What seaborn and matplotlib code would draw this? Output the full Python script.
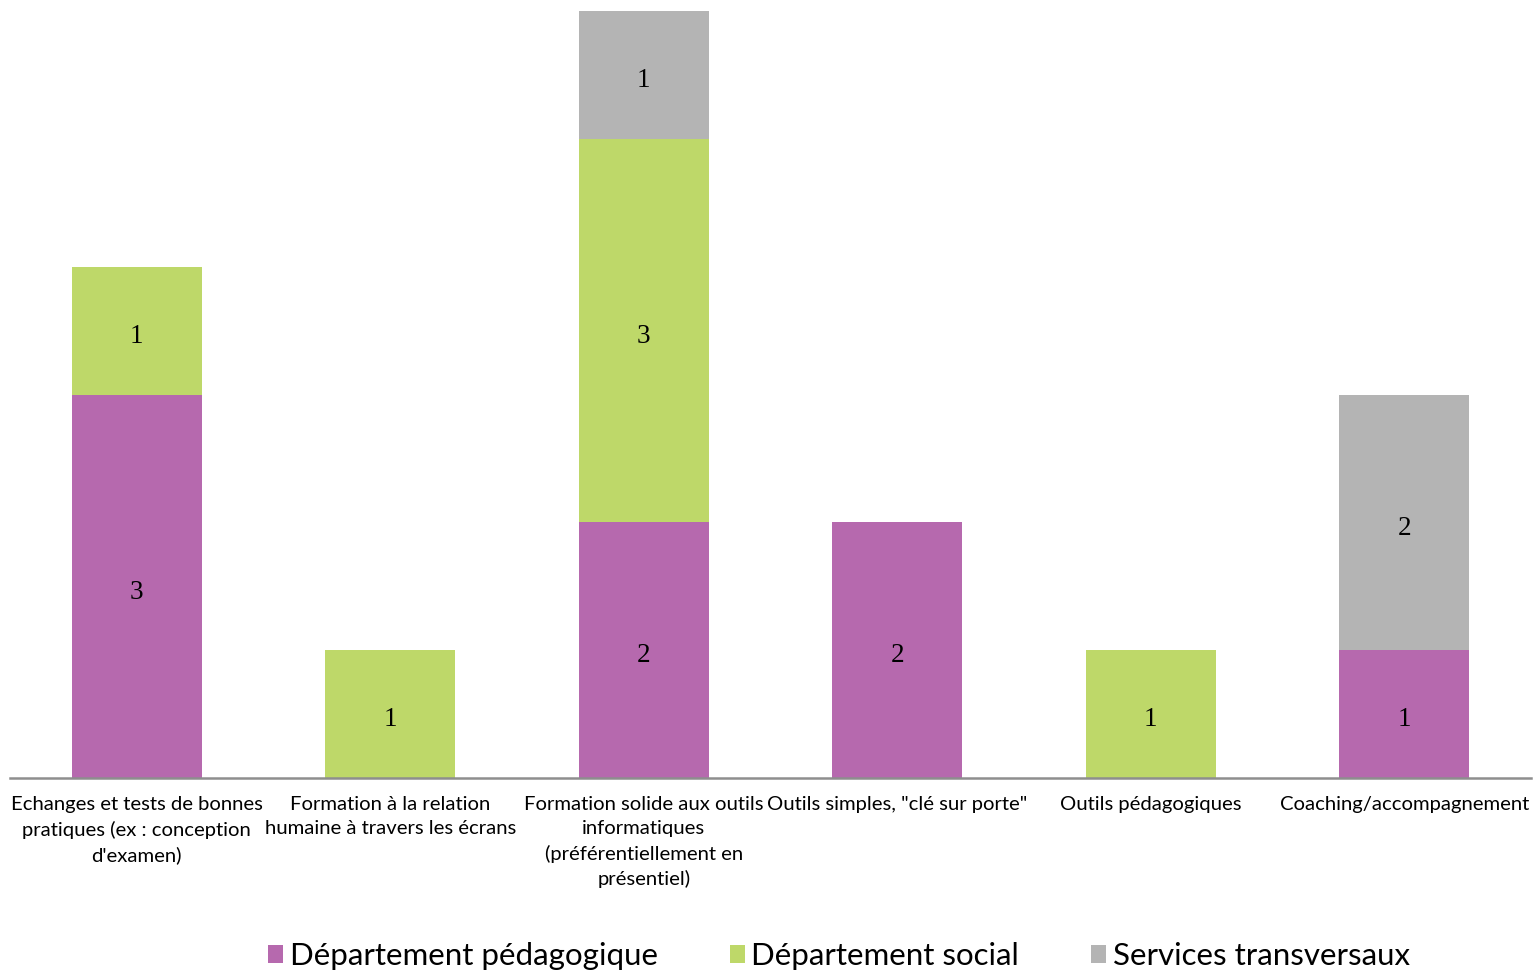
import matplotlib
matplotlib.use("Agg")
import matplotlib.pyplot as plt
from matplotlib.patches import Patch
from matplotlib import font_manager
import seaborn as sns
import pandas as pd

categories = [
    "Echanges et tests de bonnes\npratiques (ex : conception\nd'examen)",
    "Formation à la relation\nhumaine à travers les écrans",
    "Formation solide aux outils\ninformatiques\n(préférentiellement en\nprésentiel)",
    "Outils simples, \"clé sur porte\"",
    "Outils pédagogiques",
    "Coaching/accompagnement",
]
series_names = ["Département pédagogique", "Département social", "Services transversaux"]
pedagogique = [3, 0, 2, 2, 0, 1]
social = [1, 1, 3, 0, 1, 0]
transversaux = [0, 0, 1, 0, 0, 2]
colors = ["#B669AE", "#BED869", "#B4B4B4"]

sns.set_theme(style="white")
available = {f.name for f in font_manager.fontManager.ttflist}
sans = "Lato" if "Lato" in available else "DejaVu Sans"
plt.rcParams["font.family"] = [sans, "DejaVu Sans"]

fig = plt.figure(figsize=(15.34, 9.71), dpi=100)
ax = fig.add_axes([10 / 1534, (971 - 778) / 971, 1521 / 1534, (778 - 11) / 971])

bottom = [0] * len(categories)
for name, vals, col in zip(series_names, [pedagogique, social, transversaux], colors):
    df = pd.DataFrame({"cat": categories, "val": vals})
    sns.barplot(data=df, x="cat", y="val", bottom=bottom, color=col, width=0.513,
                saturation=1, ax=ax, errorbar=None, linewidth=0)
    for i, v in enumerate(vals):
        if v > 0:
            ax.annotate(str(v), (i, bottom[i] + v / 2), xytext=(0, -2),
                        textcoords="offset points", ha="center", va="center_baseline",
                        fontsize=19.5, family="Liberation Serif", color="#000000")
    bottom = [b + v for b, v in zip(bottom, vals)]

ax.set_ylim(0, 6)
ax.set_xlim(-0.5, 5.5)
ax.set_xlabel("")
ax.set_ylabel("")
ax.set_yticks([])
for s in ["top", "right", "left"]:
    ax.spines[s].set_visible(False)
ax.spines["bottom"].set_color("#8E8E8E")
ax.spines["bottom"].set_linewidth(1.8)
ax.tick_params(axis="x", length=0, pad=13)
for lbl in ax.get_xticklabels():
    lbl.set_fontsize(14.6)
    lbl.set_color("#000000")
    lbl.set_linespacing(1.5)
    lbl.set_verticalalignment("top")

handles = [Patch(facecolor=c, edgecolor="none") for c in colors]
fig.legend(handles, series_names, loc="lower center", bbox_to_anchor=(0.547, -0.028),
           ncol=3, frameon=False, prop={"size": 22.5}, labelcolor="#000000",
           handlelength=0.47, handleheight=0.47, handletextpad=0.22, columnspacing=2.3)

fig.savefig("out.png", dpi=100)
